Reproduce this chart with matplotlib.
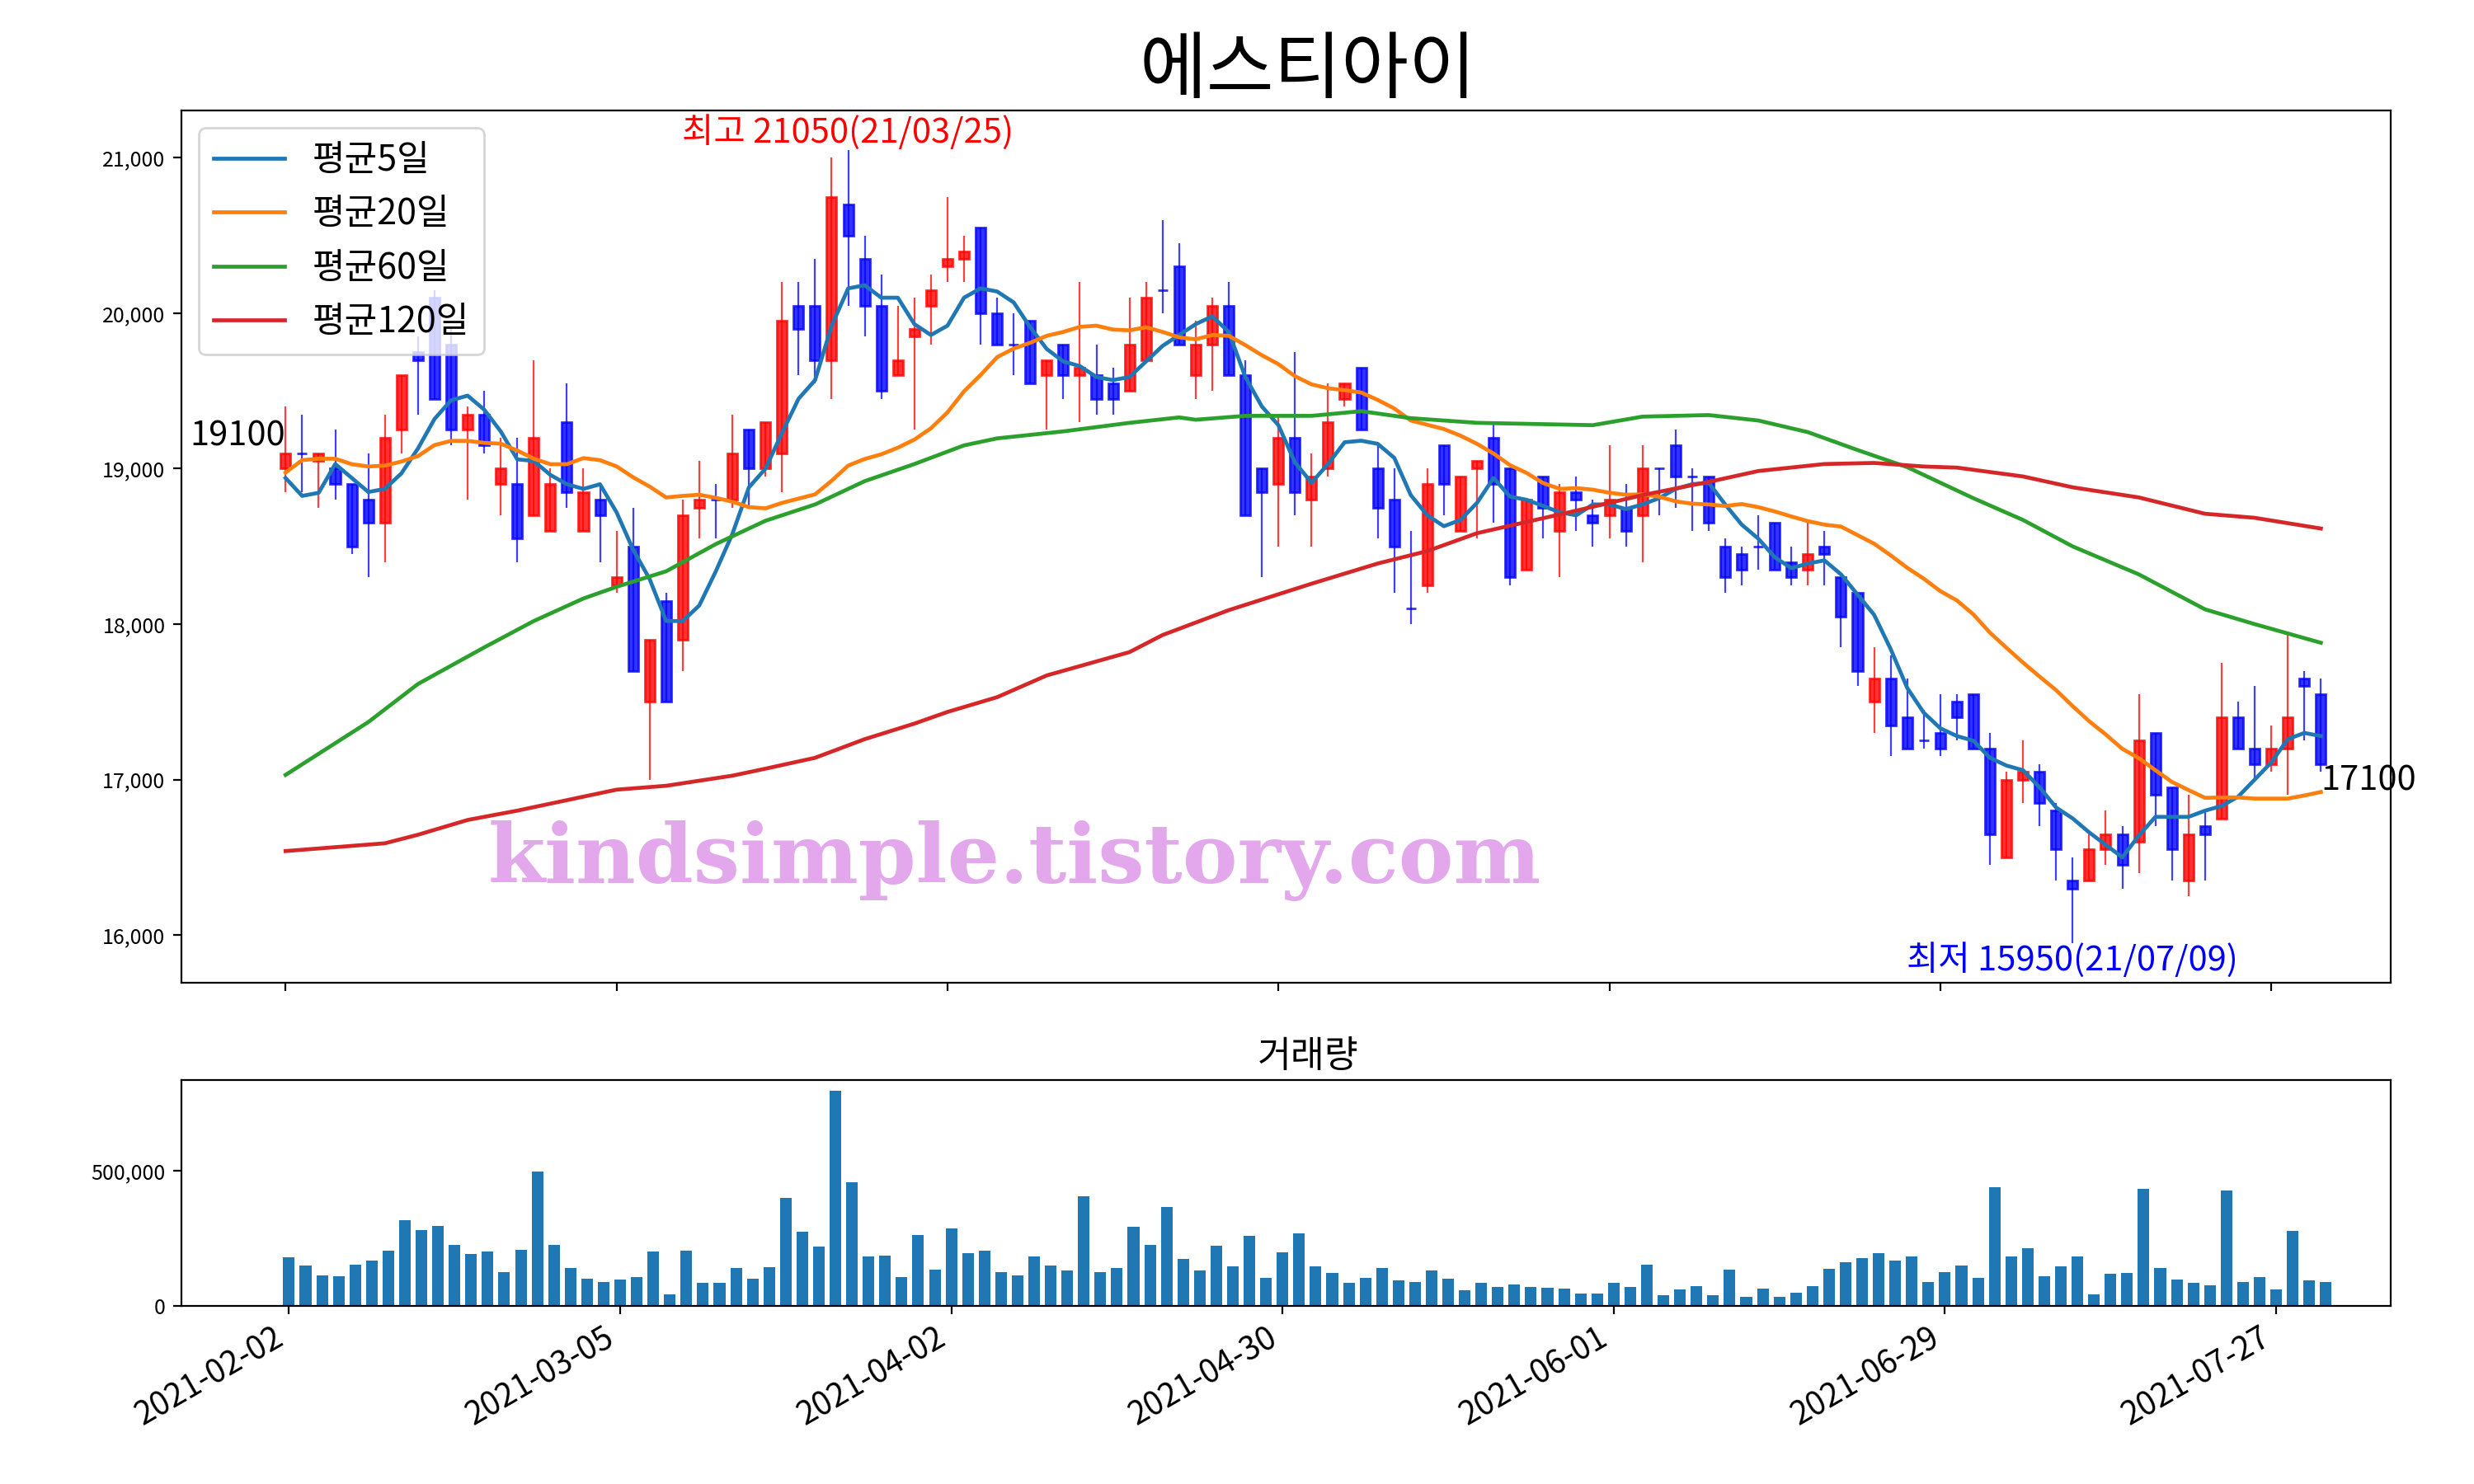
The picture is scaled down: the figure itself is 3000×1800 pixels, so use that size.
import matplotlib
matplotlib.use('Agg')
import matplotlib.pyplot as plt
import matplotlib.ticker as mticker
import numpy as np
import pandas as pd

plt.rcParams['font.family'] = ['Noto Sans CJK KR', 'DejaVu Sans']
plt.rcParams['axes.unicode_minus'] = False

name = '에스티아이'
tick_labels = ['2021-02-02', '2021-03-05', '2021-04-02', '2021-04-30',
               '2021-06-01', '2021-06-29', '2021-07-27']
hi_date = '21/03/25'
lo_date = '21/07/09'

open_ = [19000, 19100, 19050, 19000, 18900, 18800, 18650, 19250, 19750, 20100,
         19800, 19250, 19350, 18900, 18900, 18700, 18600, 19300, 18600, 18800,
         18250, 18500, 17500, 18150, 17900, 18750, 18800, 18800, 19250, 19000,
         19100, 20050, 20050, 19700, 20700, 20350, 20050, 19600, 19850, 20050,
         20300, 20350, 20550, 20000, 19800, 19950, 19600, 19800, 19600, 19600,
         19550, 19500, 19700, 20150, 20300, 19600, 19800, 20050, 19600, 19000,
         18900, 19200, 18800, 19000, 19450, 19650, 19000, 18800, 18100, 18250,
         19150, 18600, 19000, 19200, 19000, 18350, 18950, 18600, 18850, 18700,
         18700, 18750, 18700, 19000, 19150, 18950, 18950, 18500, 18450, 18500,
         18650, 18400, 18350, 18500, 18300, 18200, 17500, 17650, 17400, 17250,
         17300, 17500, 17550, 17200, 16500, 17000, 17050, 16800, 16350, 16350,
         16550, 16650, 16600, 17300, 16950, 16350, 16700, 16750, 17400, 17200,
         17100, 17200, 17650, 17550]
high = [19400, 19350, 19100, 19250, 18900, 19100, 19350, 19600, 19850, 20150,
        19900, 19400, 19500, 19200, 19200, 19700, 19000, 19550, 19000, 18900,
        18600, 18750, 17900, 18200, 18800, 19050, 18900, 19350, 19250, 19300,
        20200, 20200, 20350, 21000, 21050, 20500, 20250, 20050, 20100, 20250,
        20750, 20500, 20550, 20100, 20000, 19950, 19700, 19800, 20200, 19800,
        19650, 20100, 20200, 20600, 20450, 19950, 20100, 20200, 19700, 19000,
        19350, 19750, 19100, 19550, 19550, 19650, 19150, 19000, 18600, 19000,
        19150, 18950, 19050, 19300, 19000, 18800, 18950, 18900, 18950, 18800,
        19150, 18900, 19150, 19000, 19250, 19000, 18950, 18550, 18500, 18700,
        18650, 18500, 18650, 18600, 18300, 18200, 17850, 17800, 17650, 17450,
        17550, 17550, 17550, 17300, 17050, 17250, 17100, 16850, 16500, 16650,
        16800, 16700, 17550, 17300, 16950, 16900, 16800, 17750, 17500, 17600,
        17350, 17950, 17700, 17650]
low = [18850, 18850, 18750, 18800, 18450, 18300, 18400, 19100, 19350, 19450,
       19150, 18800, 19100, 18700, 18400, 18700, 18600, 18750, 18600, 18400,
       18200, 17700, 17000, 17500, 17700, 18550, 18550, 18750, 18750, 18950,
       18850, 19600, 19550, 19450, 20050, 19850, 19450, 19600, 19250, 19800,
       20200, 20200, 19800, 19800, 19600, 19550, 19250, 19450, 19300, 19350,
       19350, 19500, 19700, 20000, 19800, 19450, 19500, 19600, 18700, 18300,
       18500, 18700, 18500, 18950, 19400, 19250, 18550, 18200, 18000, 18200,
       18700, 18600, 18550, 18650, 18250, 18350, 18550, 18300, 18600, 18500,
       18550, 18500, 18400, 18700, 18750, 18600, 18600, 18200, 18250, 18350,
       18350, 18250, 18250, 18250, 17850, 17600, 17300, 17150, 17200, 17200,
       17150, 17250, 17200, 16450, 16500, 16850, 16700, 16350, 15950, 16350,
       16450, 16300, 16400, 16700, 16350, 16250, 16350, 16750, 17200, 17000,
       17050, 16900, 17250, 17050]
close = [19100, 19100, 19100, 18900, 18500, 18650, 19200, 19600, 19700, 19450,
         19250, 19350, 19150, 19000, 18550, 19200, 18900, 18850, 18850, 18700,
         18300, 17700, 17900, 17500, 18700, 18800, 18800, 19100, 19000, 19300,
         19950, 19900, 19700, 20750, 20500, 20050, 19500, 19700, 19900, 20150,
         20350, 20400, 20000, 19800, 19800, 19550, 19700, 19600, 19650, 19450,
         19450, 19800, 20100, 20150, 19800, 19800, 20050, 19600, 18700, 18850,
         19200, 18850, 18950, 19300, 19550, 19250, 18750, 18500, 18100, 18900,
         18900, 18950, 19050, 18900, 18300, 18800, 18750, 18850, 18800, 18650,
         18800, 18600, 19000, 19000, 18950, 18950, 18650, 18300, 18350, 18500,
         18350, 18300, 18450, 18450, 18050, 17700, 17650, 17350, 17200, 17250,
         17200, 17400, 17200, 16650, 17000, 17050, 16850, 16550, 16300, 16550,
         16650, 16450, 17250, 16900, 16550, 16650, 16650, 17400, 17200, 17100,
         17200, 17400, 17600, 17100]
volume = [179000, 148000, 112000, 109000, 151000, 167000, 203000, 316000, 279000, 295000,
          225000, 191000, 200000, 124000, 206000, 496000, 225000, 139000, 100000, 87000,
          97000, 106000, 200000, 42000, 203000, 84000, 84000, 139000, 100000, 142000,
          398000, 273000, 218000, 795000, 456000, 182000, 185000, 106000, 261000, 133000,
          285000, 194000, 203000, 124000, 112000, 182000, 148000, 130000, 404000, 124000,
          139000, 292000, 225000, 365000, 173000, 130000, 221000, 145000, 258000, 103000,
          197000, 267000, 145000, 121000, 84000, 103000, 139000, 93000, 87000, 130000,
          100000, 57000, 84000, 69000, 78000, 69000, 66000, 63000, 45000, 45000,
          84000, 69000, 151000, 39000, 60000, 72000, 39000, 133000, 33000, 63000,
          33000, 48000, 72000, 136000, 161000, 176000, 194000, 167000, 182000, 87000,
          124000, 148000, 103000, 438000, 182000, 212000, 109000, 145000, 182000, 42000,
          118000, 121000, 432000, 139000, 97000, 84000, 75000, 426000, 87000, 106000,
          60000, 276000, 93000, 87000]

# moving averages that need days before the window
ma5_head = [18940, 18825, 18845, 19030]
ma20_head = [18975, 19055, 19064, 19064, 19029, 19014, 19020, 19046, 19081, 19152,
             19179, 19179, 19166, 19161, 19117, 19064, 19029, 19029, 19068]
ma60_idx = [0, 5, 8, 12, 15, 18, 20, 23, 26, 29, 32, 35, 38, 41, 43, 47, 51, 54, 55,
            58, 62, 65, 68, 72, 79, 82, 86, 89, 92, 95, 98, 102, 105, 108, 112, 116,
            119, 123]
ma60_val = [17030, 17370, 17615, 17850, 18020, 18165, 18240, 18340, 18515, 18665,
            18770, 18920, 19030, 19150, 19195, 19240, 19295, 19330, 19315, 19340,
            19340, 19370, 19325, 19295, 19280, 19335, 19345, 19310, 19235, 19120,
            19010, 18810, 18670, 18500, 18320, 18095, 18000, 17880]
ma120_idx = [0, 6, 8, 11, 14, 18, 20, 23, 27, 29, 32, 35, 38, 40, 43, 46, 51, 53, 57,
             62, 66, 69, 72, 78, 82, 86, 89, 93, 96, 99, 101, 105, 108, 112, 116, 119,
             123]
ma120_val = [16540, 16590, 16645, 16740, 16800, 16890, 16935, 16960, 17025, 17070,
             17140, 17260, 17360, 17435, 17530, 17670, 17820, 17930, 18090, 18260,
             18390, 18470, 18585, 18730, 18830, 18915, 18985, 19030, 19037, 19014,
             19007, 18950, 18880, 18815, 18710, 18684, 18615]

df = pd.DataFrame({'open': open_, 'high': high, 'low': low,
                   'close': close, 'volume': volume})
n = len(df)
x = np.arange(n)

ma5 = df['close'].rolling(5).mean()
ma5.iloc[:4] = ma5_head
ma20 = df['close'].rolling(20).mean()
ma20.iloc[:19] = ma20_head

fig = plt.figure(figsize=(15, 9), dpi=200)
ax = fig.add_axes([0.0733, 0.338, 0.8929, 0.5876])
axv = fig.add_axes([0.0733, 0.1201, 0.8929, 0.1519])

# candles
cols = np.where(df['close'] > df['open'], 'red', 'blue')
ax.vlines(x, df['low'], df['high'], colors=cols, lw=0.8, alpha=0.75)
body_lo = np.minimum(df['open'], df['close'])
body_h = (df['close'] - df['open']).abs()
ax.bar(x, body_h, bottom=body_lo, width=0.6, color=cols, edgecolor=cols,
       lw=1, alpha=0.8)

ax.plot(x, ma5, lw=1.7, label='평균5일')
ax.plot(x, ma20, lw=1.7, label='평균20일')
ax.plot(ma60_idx, ma60_val, lw=1.7, label='평균60일')
ax.plot(ma120_idx, ma120_val, lw=1.7, label='평균120일')

imax = df['high'].idxmax()
imin = df['low'].idxmin()
ax.text(imax, df['high'][imax], f"최고 {df['high'][imax]}({hi_date})",
        color='red', ha='center', va='bottom', fontsize=15)
ax.text(imin, df['low'][imin], f"최저 {df['low'][imin]}({lo_date})",
        color='blue', ha='center', va='top', fontsize=15)
ax.text(0, close[0], str(close[0]), ha='right', va='bottom', fontsize=15)
ax.text(n - 1, close[-1], str(close[-1]), ha='left', va='top', fontsize=15)

ax.text(0.377, 0.14, 'kindsimple.tistory.com', transform=ax.transAxes,
        fontsize=36, fontweight='heavy', family='DejaVu Serif',
        color='#e3a8ec', ha='center', va='center', zorder=0)

ax.set_title(name, fontsize=32, pad=8, x=0.51)
ax.legend(loc='upper left', fontsize=15.5)
ax.set_xlim(-6.3, 127.2)
ax.yaxis.set_major_formatter(mticker.StrMethodFormatter('{x:,.0f}'))
ax.set_xticks(range(0, n, 20))
ax.set_xticklabels([])
ax.tick_params(labelsize=9)

axv.bar(x, df['volume'], width=0.7)
axv.set_title('거래량', fontsize=16, x=0.51)
axv.set_xlim(-6.5, 126.9)
axv.yaxis.set_major_locator(mticker.MultipleLocator(500000))
axv.yaxis.set_major_formatter(mticker.StrMethodFormatter('{x:,.0f}'))
axv.set_xticks(range(0, n, 20))
axv.set_xticklabels(tick_labels, rotation=30, ha='right', fontsize=14)
axv.tick_params(axis='y', labelsize=9)

fig.savefig('out.png')
